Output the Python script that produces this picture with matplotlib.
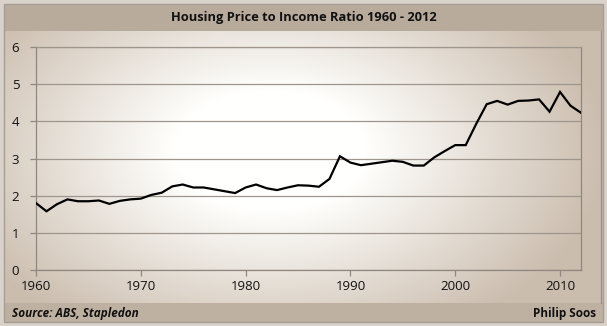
import numpy as np
import matplotlib.pyplot as plt
from matplotlib.patches import Rectangle

# Housing price to income ratio
years = list(range(1960, 2013))
ratio = [1.80, 1.58, 1.77, 1.90, 1.85, 1.85, 1.87, 1.78, 1.86, 1.90,
         1.92, 2.02, 2.08, 2.25, 2.30, 2.22, 2.22, 2.17, 2.12, 2.07,
         2.22, 2.30, 2.20, 2.15, 2.22, 2.28, 2.27, 2.24, 2.45, 3.06,
         2.89, 2.82, 2.86, 2.90, 2.94, 2.91, 2.81, 2.81, 3.03, 3.20,
         3.36, 3.36, 3.93, 4.46, 4.55, 4.45, 4.55, 4.56, 4.59, 4.26,
         4.79, 4.42, 4.23]
x_ticks = [1960, 1970, 1980, 1990, 2000, 2010]
y_ticks = [0, 1, 2, 3, 4, 5, 6]

title = "Housing Price to Income Ratio 1960 - 2012"
source = "Source: ABS, Stapledon"
author = "Philip Soos"

W, H = 607, 326
fig = plt.figure(figsize=(W / 100, H / 100), dpi=100)

# background: beige vignette with a whiter centre
bg = fig.add_axes([0, 0, 1, 1])
bg.set_xlim(0, W)
bg.set_ylim(H, 0)
bg.axis("off")
yy, xx = np.mgrid[0:H, 0:W]
d = np.sqrt(((xx - 270) / 320.0) ** 2 + ((yy - 150) / 200.0) ** 2)
t = np.clip((d - 0.3) / 0.75, 0, 1)[..., None]
centre = np.array([255, 255, 253]) / 255
edge = np.array([203, 189, 174]) / 255
img = centre * (1 - t) + edge * t
bg.imshow(img, extent=(0, W, H, 0), aspect="auto", zorder=0)

# outer border, title bar and footer bar
bg.add_patch(Rectangle((0, 0), W, H, fill=False, ec="#d8d2ca", lw=6, zorder=1))
bg.add_patch(Rectangle((4, 4), W - 8, 27, fc="#b9ab9c", ec="none", zorder=1))
bg.add_patch(Rectangle((4, 303), W - 8, 19, fc="#bfb1a2", ec="none", zorder=1))
bg.add_patch(Rectangle((4, 4), W - 8, H - 8, fill=False, ec="#a89d92", lw=1, zorder=1))
bg.plot([601, 601], [31, 303], color="#9c9086", lw=1, zorder=1)

bg.text(W / 2, 18, title, ha="center", va="center", fontsize=9.3,
        fontweight="bold", family="Open Sans", color="#111111", zorder=2)
bg.text(12, 313, source, ha="left", va="center", fontsize=8.5,
        fontweight="bold", style="italic", family="Open Sans", color="#111111", zorder=2)
bg.text(596, 313, author, ha="right", va="center", fontsize=8.5,
        fontweight="bold", family="Open Sans", color="#111111", zorder=2)

# main plot
left, right, top, bottom = 36, 581, 47, 270
ax = fig.add_axes([left / W, 1 - bottom / H, (right - left) / W, (bottom - top) / H])
ax.patch.set_alpha(0)
ax.plot(years, ratio, color="black", lw=1.6, solid_joinstyle="miter", zorder=3)

ax.set_xlim(1960, 2012)
ax.set_ylim(0, 6)
ax.set_xticks(x_ticks)
ax.set_yticks(y_ticks)
ax.grid(axis="y", color="#9e958c", lw=0.9)
for s in ["left", "bottom", "right", "top"]:
    ax.spines[s].set_color("#8f8780")
    ax.spines[s].set_linewidth(0.9)
ax.spines["top"].set_color("#9e958c")
ax.tick_params(axis="both", colors="#8f8780", length=4, width=0.9,
               labelcolor="#111111", labelsize=9.5)
ax.tick_params(axis="y", pad=8)
ax.tick_params(axis="x", pad=3)
for lab in ax.get_xticklabels() + ax.get_yticklabels():
    lab.set_family("Open Sans")

fig.savefig("out.png", dpi=100)
